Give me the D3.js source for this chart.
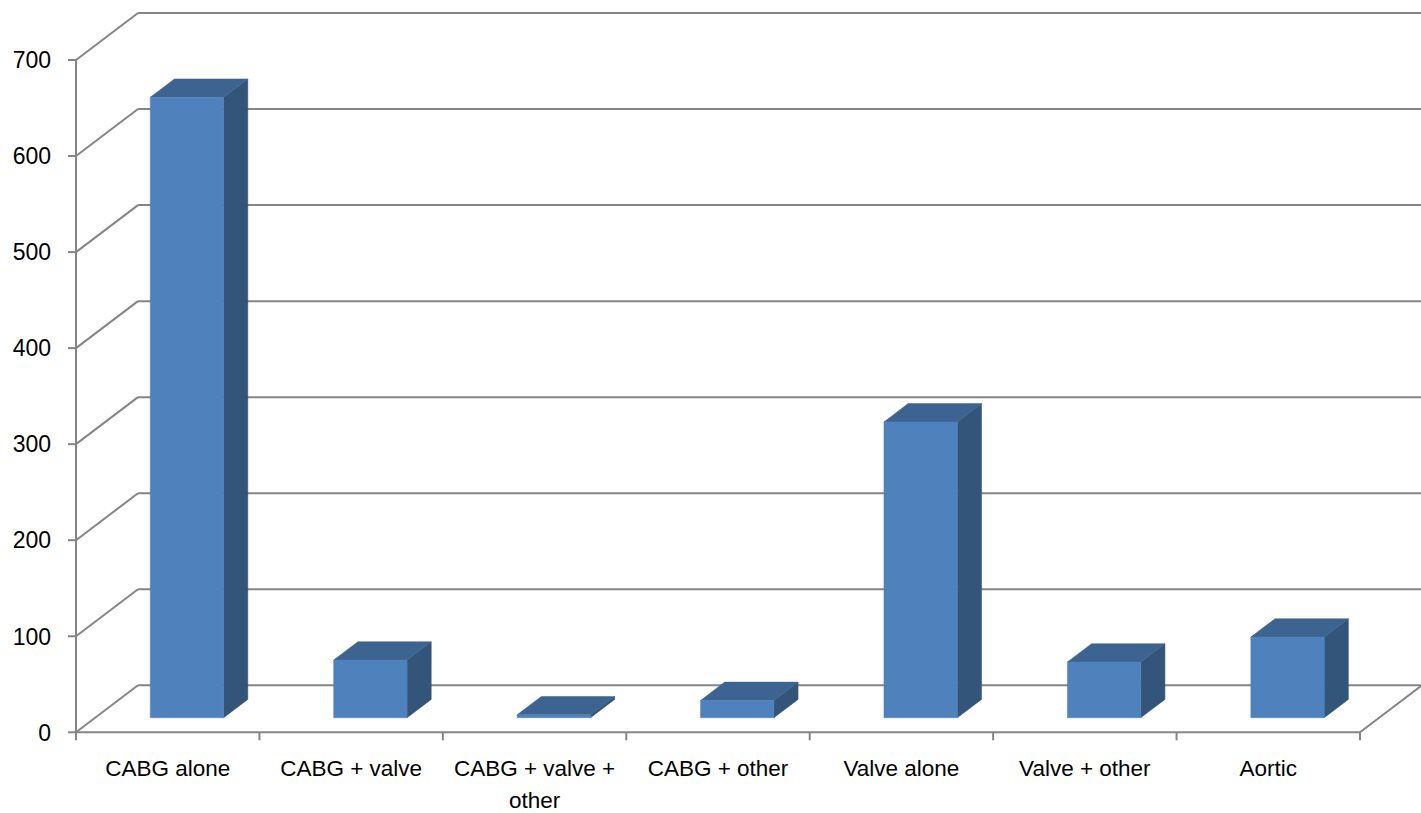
<!DOCTYPE html>
<html>
<head>
<meta charset="utf-8">
<script src="https://cdn.jsdelivr.net/npm/d3@7"></script>
<style>
  html, body { margin: 0; padding: 0; background: #ffffff; }
  svg { display: block; }
</style>
</head>
<body>
<svg id="chart" width="1421" height="813"></svg>
<script>
// ---- data ----
const categories = [
  "CABG alone", "CABG + valve", "CABG + valve + other", "CABG + other",
  "Valve alone", "Valve + other", "Aortic"
];
const values = [646, 60, 3, 18, 308, 58, 84];
const yTicks = [0, 100, 200, 300, 400, 500, 600, 700];
const labelLines = [
  ["CABG alone"], ["CABG + valve"], ["CABG + valve +", "other"], ["CABG + other"],
  ["Valve alone"], ["Valve + other"], ["Aortic"]
];

// ---- layout ----
const svg = d3.select("#chart");
const frontLeft = 76, frontRight = 1360;
const y0 = 732.3, yTop = 60;
const DX = 62, DY = 47;          // depth offset of back wall
const zFront = 0.31, zBack = 0.70; // bar depth position (fraction)
const gridColor = "#858585";

const x = d3.scaleBand().domain(categories).range([frontLeft, frontRight])
  .paddingInner(0.6).paddingOuter(0.3);
const y = d3.scaleLinear().domain([0, 700]).range([y0, yTop]);
const proj = (px, py, z) => [px + z * DX, py - z * DY];

const grid = svg.append("g");

// back wall horizontal gridlines
grid.selectAll("line.back").data(yTicks).join("line")
  .attr("x1", d => proj(frontLeft, y(d), 1)[0])
  .attr("x2", 1421 + 2)
  .attr("y1", d => proj(frontLeft, y(d), 1)[1])
  .attr("y2", d => proj(frontLeft, y(d), 1)[1])
  .attr("stroke", gridColor).attr("stroke-width", 2);

// side wall diagonals
grid.selectAll("line.diag").data(yTicks).join("line")
  .attr("x1", frontLeft).attr("y1", d => y(d))
  .attr("x2", d => proj(frontLeft, y(d), 1)[0])
  .attr("y2", d => proj(frontLeft, y(d), 1)[1])
  .attr("stroke", gridColor).attr("stroke-width", 2);

// floor front edge and right diagonal
grid.append("line")
  .attr("x1", frontLeft).attr("x2", frontRight)
  .attr("y1", y(0)).attr("y2", y(0))
  .attr("stroke", gridColor).attr("stroke-width", 2);
grid.append("line")
  .attr("x1", frontRight).attr("y1", y(0))
  .attr("x2", proj(frontRight, y(0), 1)[0]).attr("y2", proj(frontRight, y(0), 1)[1])
  .attr("stroke", gridColor).attr("stroke-width", 2);

// front vertical axis
grid.append("line")
  .attr("x1", frontLeft).attr("x2", frontLeft)
  .attr("y1", y(700)).attr("y2", y(0))
  .attr("stroke", gridColor).attr("stroke-width", 2);

// y tick marks
grid.selectAll("line.ytick").data(yTicks).join("line")
  .attr("x1", frontLeft - 8).attr("x2", frontLeft)
  .attr("y1", d => y(d)).attr("y2", d => y(d))
  .attr("stroke", gridColor).attr("stroke-width", 2);

// x tick marks at category boundaries
const boundaries = d3.range(categories.length + 1).map(i => frontLeft + i * x.step());
grid.selectAll("line.xtick").data(boundaries).join("line")
  .attr("x1", d => d).attr("x2", d => d)
  .attr("y1", y(0)).attr("y2", y(0) + 8)
  .attr("stroke", gridColor).attr("stroke-width", 2);

// ---- bars ----
const data = categories.map((c, i) => ({ c, v: values[i] }));
const bars = svg.append("g").selectAll("g").data(data).join("g");
const pts = a => a.map(p => p.join(",")).join(" ");

bars.each(function(d) {
  const g = d3.select(this);
  const xl = x(d.c), xr = x(d.c) + x.bandwidth();
  const yb = y(0), yt = y(d.v);
  const fbl = proj(xl, yb, zFront), fbr = proj(xr, yb, zFront);
  const ftl = proj(xl, yt, zFront), ftr = proj(xr, yt, zFront);
  const bbr = proj(xr, yb, zBack), btl = proj(xl, yt, zBack), btr = proj(xr, yt, zBack);
  // side face
  g.append("polygon").attr("points", pts([fbr, bbr, btr, ftr]))
    .attr("fill", "#325579").attr("stroke", "#325579").attr("stroke-width", 0.5);
  // top face
  g.append("polygon").attr("points", pts([ftl, ftr, btr, btl]))
    .attr("fill", "#3D6390").attr("stroke", "#3D6390").attr("stroke-width", 0.5);
  // front face
  g.append("polygon").attr("points", pts([fbl, fbr, ftr, ftl]))
    .attr("fill", "#4F81BD").attr("stroke", "#4F81BD").attr("stroke-width", 0.5);
});

// ---- labels ----
const font = "'Liberation Sans', Arial, sans-serif";
svg.append("g").selectAll("text").data(yTicks).join("text")
  .attr("x", 51).attr("y", d => y(d))
  .attr("dy", "0.36em")
  .attr("text-anchor", "end")
  .attr("font-family", font).attr("font-size", 23).attr("fill", "#000")
  .text(d => d);

const xl = svg.append("g").selectAll("text").data(categories).join("text")
  .attr("text-anchor", "middle")
  .attr("font-family", font).attr("font-size", 22.5).attr("fill", "#000");
xl.each(function(c, i) {
  const t = d3.select(this);
  const cx = x(c) + x.bandwidth() / 2;
  labelLines[i].forEach((line, j) => {
    t.append("tspan").attr("x", cx).attr("y", 776 + j * 32).text(line);
  });
});
</script>
</body>
</html>
